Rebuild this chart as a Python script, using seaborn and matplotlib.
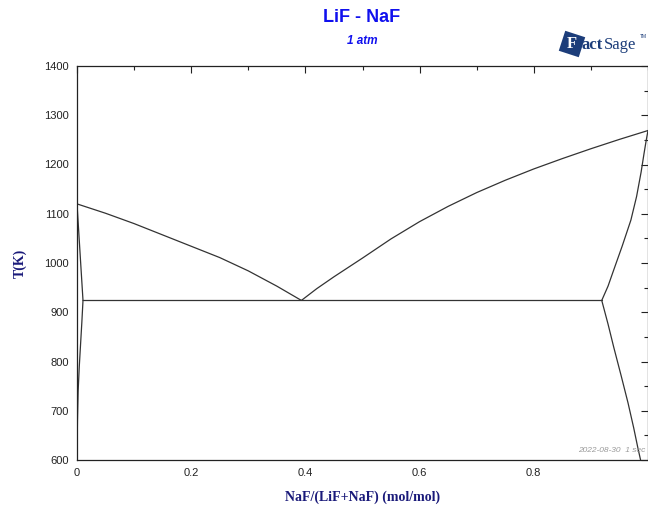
import matplotlib
matplotlib.use("Agg")
import matplotlib.pyplot as plt
from matplotlib.patches import Polygon
from matplotlib.ticker import MultipleLocator
import numpy as np
import seaborn as sns
import pandas as pd

sns.set_theme(style="white")

# Phase boundaries of the LiF-NaF system (x = NaF mole fraction, T in K)
liq_lif_x = [0.0, 0.05, 0.10, 0.15, 0.20, 0.25, 0.30, 0.35, 0.393]
liq_lif_t = [1120, 1101, 1080, 1057, 1034, 1011, 984, 953, 924]

liq_naf_x = [0.393, 0.42, 0.45, 0.50, 0.55, 0.60, 0.65, 0.70, 0.75, 0.80,
             0.85, 0.90, 0.95, 1.0]
liq_naf_t = [924, 948, 972, 1010, 1049, 1084, 1115, 1143, 1168, 1191,
             1212, 1232, 1251, 1269]

eutectic_x = [0.0105, 0.919]
eutectic_t = [924, 924]

sol_lif_x = [0.0, 0.0105]
sol_lif_t = [1120, 924]

solvus_lif_x = [0.0105, 0.0085, 0.006, 0.004, 0.002, 0.0008, 0.0]
solvus_lif_t = [924, 880, 830, 790, 740, 680, 600]

sol_naf_x = [0.919, 0.93, 0.94, 0.955, 0.97, 0.98, 0.988, 0.993, 0.997, 1.0]
sol_naf_t = [924, 953, 986, 1035, 1087, 1135, 1185, 1222, 1250, 1269]

solvus_naf_x = [0.919, 0.93, 0.94, 0.953, 0.965, 0.975, 0.982, 0.987]
solvus_naf_t = [924, 876, 829, 771, 716, 665, 626, 600]

curves = {
    "liquidus LiF": (liq_lif_x, liq_lif_t),
    "liquidus NaF": (liq_naf_x, liq_naf_t),
    "eutectic": (eutectic_x, eutectic_t),
    "solidus LiF": (sol_lif_x, sol_lif_t),
    "solvus LiF": (solvus_lif_x, solvus_lif_t),
    "solidus NaF": (sol_naf_x, sol_naf_t),
    "solvus NaF": (solvus_naf_x, solvus_naf_t),
}

fig = plt.figure(figsize=(6.48, 5.07), dpi=100)
ax = fig.add_axes([77 / 648, 47 / 507, 571 / 648, 394 / 507])

for name, (xs, ts) in curves.items():
    df = pd.DataFrame({"x": xs, "T": ts})
    sns.lineplot(data=df, x="x", y="T", sort=False, estimator=None,
                 color="#333333", linewidth=0.9, ax=ax)

ax.set_xlim(0, 1)
ax.set_ylim(600, 1400)
ax.xaxis.set_minor_locator(MultipleLocator(0.1))
ax.yaxis.set_major_locator(MultipleLocator(100))
ax.yaxis.set_minor_locator(MultipleLocator(50))
ax.set_xticks([0, 0.2, 0.4, 0.6, 0.8])
ax.set_xticklabels(["0", "0.2", "0.4", "0.6", "0.8"])
ax.tick_params(which="both", direction="in", top=True, right=True,
               colors="#222222", labelsize=8, width=0.8)
ax.tick_params(which="major", length=5, pad=6)
ax.tick_params(which="minor", length=3)
for lab in ax.get_xticklabels() + ax.get_yticklabels():
    lab.set_family("Liberation Sans")
for sp in ax.spines.values():
    sp.set_color("#222222")
    sp.set_linewidth(0.9)

ax.set_xlabel("NaF/(LiF+NaF) (mol/mol)", family="Liberation Serif",
              fontweight="bold", fontsize=10, color="#1a1a7a", va="center")
ax.xaxis.set_label_coords(0.5, -0.094)
ax.set_ylabel("T(K)", family="Liberation Serif", fontweight="bold",
              fontsize=10, color="#1a1a7a", va="center")
ax.yaxis.set_label_coords(-0.1, 0.5)

fig.text(362 / 648, 1 - 18 / 507, "LiF - NaF", ha="center", va="center",
         family="Liberation Sans", fontweight="bold", fontsize=13, color="#1010ee")
fig.text(362 / 648, 1 - 41 / 507, "1 atm", ha="center", va="center",
         family="Liberation Sans", fontweight="bold", style="italic",
         fontsize=8.5, color="#1010ee")

ax.text(0.995, 0.015, "2022-08-30  1 sec", transform=ax.transAxes,
        ha="right", va="bottom", family="Liberation Sans", style="italic",
        fontsize=6, color="#9a9a9a")

# FactSage logo: tilted square behind a white "F", then the word mark
cx, cy, half = 572 / 100, (507 - 44) / 100, 0.105
ang = np.deg2rad(-18)
corners = np.array([[-1, -1], [1, -1], [1, 1], [-1, 1]]) * half
rot = np.array([[np.cos(ang), -np.sin(ang)], [np.sin(ang), np.cos(ang)]])
verts = corners @ rot.T + [cx, cy]
fig.add_artist(Polygon(verts, closed=True, transform=fig.dpi_scale_trans,
                       facecolor="#1c3d7a", edgecolor="none", zorder=5))
fig.text(567 / 648, 1 - 44 / 507, "F", ha="left", va="center",
         family="Liberation Serif", fontweight="bold", fontsize=12,
         color="white", zorder=6)
fig.text(582 / 648, 1 - 45 / 507, "act", ha="left", va="center",
         family="Liberation Serif", fontweight="bold", fontsize=12,
         color="#1c3d7a", zorder=6)
fig.text(604 / 648, 1 - 45 / 507, "Sage", ha="left", va="center",
         family="Liberation Serif", fontsize=12, color="#1c3d7a", zorder=6)
fig.text(640 / 648, 1 - 36 / 507, "TM", ha="left", va="center",
         family="Liberation Sans", fontsize=3.5, color="#1c3d7a", zorder=6)

fig.savefig("out.png", dpi=100, facecolor="white")
